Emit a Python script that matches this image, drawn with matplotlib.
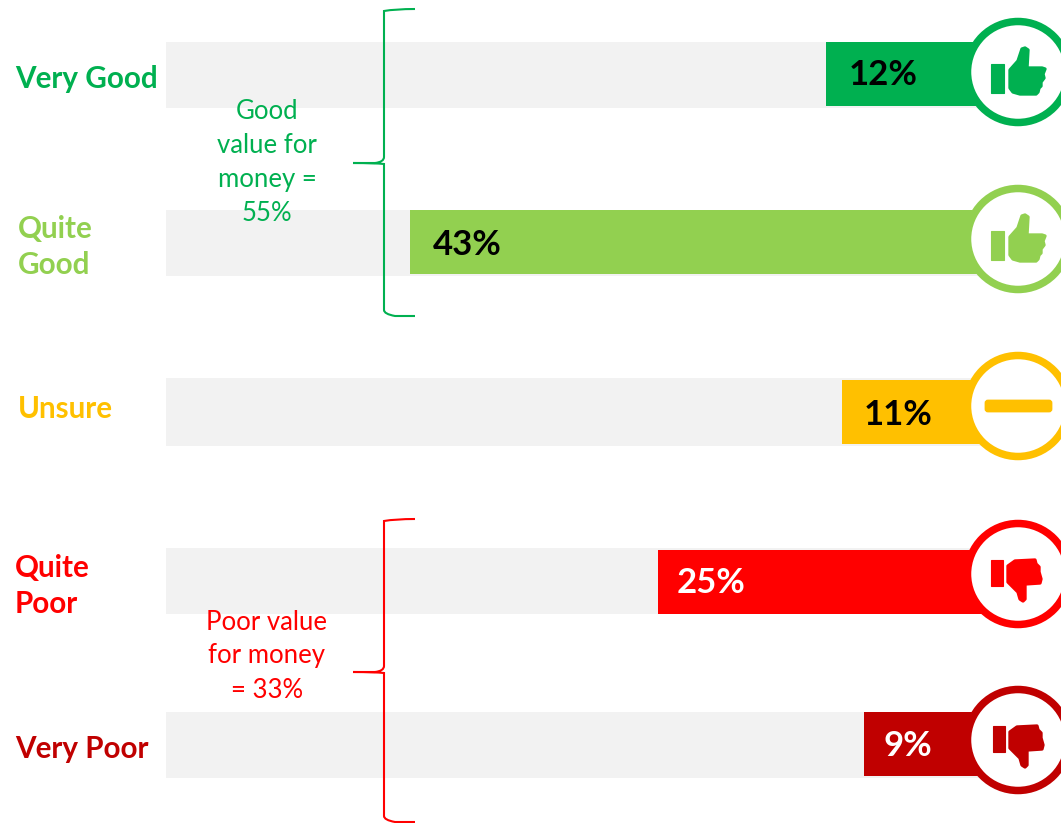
import matplotlib
matplotlib.use("Agg")
import matplotlib.pyplot as plt
from matplotlib.patches import Circle, PathPatch, Polygon, FancyBboxPatch, Rectangle
from matplotlib.path import Path

plt.rcParams['font.family'] = ['Lato', 'DejaVu Sans']

# chart data
categories = ["Very Good", "Quite\nGood", "Unsure", "Quite\nPoor", "Very Poor"]
shares = [12, 43, 11, 25, 9]
# bar lengths as drawn in the picture, they do not quite follow the labels
bar_lengths = [12.0, 43.05, 10.8, 24.55, 9.2]
colours = ["#00B050", "#92D050", "#FFC000", "#FF0000", "#C00000"]
share_colours = ["black", "black", "black", "white", "white"]
icons = ["up", "up", "dash", "down", "down"]
group_labels = ["Good\nvalue for\nmoney =\n55%", "Poor value\nfor money\n= 33%"]

W, H = 1061, 823
ZERO = 987       # pixel where the bars start, they grow to the left
PX_PER_PCT = 13.4

row_y = [74, 242, 412, 582, 744]
back_y = [75, 243, 412, 581, 745]
back_h = [66, 66, 68, 66, 66]
label_x = [15, 18, 18, 15, 15]
label_y = [79, 247, 409, 586, 749]
circle_y = [72, 239, 406, 574, 740]
share_x = [883, 467, 898, 711, 908]
share_y = [75, 245, 415, 583, 746]

fig = plt.figure(figsize=(W / 100, H / 100), dpi=100, facecolor="white")

# percent axis, inverted so that zero sits on the right
ax = fig.add_axes([0, 0, 1, 1], frameon=False)
ax.set_xlim(ZERO / PX_PER_PCT, (ZERO - W) / PX_PER_PCT)
ax.set_ylim(H, 0)
ax.set_xticks([])
ax.set_yticks([])

# grey tracks
track = (ZERO - 166) / PX_PER_PCT
ax.barh(back_y, track, height=back_h, color="#F2F2F2", zorder=1)
ax.barh(row_y, bar_lengths, height=64, color=colours, zorder=2)

# pixel overlay for the decoration
over = fig.add_axes([0, 0, 1, 1], frameon=False)
over.set_xlim(0, W)
over.set_ylim(H, 0)
over.set_xticks([])
over.set_yticks([])
over.patch.set_alpha(0)

thumb_up = [(-8, -2), (0, -11), (4, -23), (7, -24), (10, -22), (9, -4), (24, -4),
            (27, -3), (25, 2), (26, 6), (23, 10), (23, 14), (21, 16), (20, 20),
            (18, 22), (2, 22), (-5, 20), (-8, 16)]
thumb_down = [(-10, -8), (-3, -13), (17, -14), (18, -10), (21, -7), (21, -2),
              (23, 5), (22, 9), (7, 10), (7, 25), (5, 27), (2, 25), (0, 18), (-10, 8)]


def draw_icon(kind, cy, colour):
    cx = 1018
    over.add_patch(Circle((cx, cy), 50.5, facecolor="white", edgecolor=colour, lw=5.4, zorder=3))
    if kind == "dash":
        over.add_patch(FancyBboxPatch((986, cy - 5), 65, 10, boxstyle="round,pad=0,rounding_size=2",
                                      facecolor=colour, edgecolor=colour, lw=2, zorder=4))
        return
    if kind == "up":
        cuff = (cx - 27, cy - 8, 13, 29)
        points = thumb_up
        dx = 0
    else:
        dx = 2 if colour == "#C00000" else 0
        cuff = (cx - 27 + dx, cy - 14, 12, 26)
        points = thumb_down
    over.add_patch(Rectangle(cuff[:2], cuff[2], cuff[3], facecolor=colour, edgecolor=colour, lw=0.8, zorder=4))
    over.add_patch(Polygon([(cx + dx + px, cy + py) for px, py in points], closed=True,
                           facecolor=colour, edgecolor=colour, lw=2.4, joinstyle="round", zorder=4))


def draw_brace(top, mid, bottom, colour):
    xs, tip, end = 384, 353, 415
    verts = [(end, top), (395, top), (384, top + 2), (xs, top + 6),
             (xs, mid - 6), (384, mid - 1), (375, mid), (tip, mid),
             (375, mid), (384, mid + 1), (xs, mid + 6),
             (xs, bottom - 6), (384, bottom - 2), (395, bottom), (end, bottom)]
    codes = [Path.MOVETO, Path.CURVE3, Path.CURVE3, Path.LINETO,
             Path.LINETO, Path.CURVE3, Path.CURVE3, Path.LINETO,
             Path.CURVE3, Path.CURVE3, Path.LINETO,
             Path.LINETO, Path.CURVE3, Path.CURVE3, Path.LINETO]
    over.add_patch(PathPatch(Path(verts, codes), facecolor="none", edgecolor=colour, lw=1.5, zorder=3))


for i in range(len(categories)):
    draw_icon(icons[i], circle_y[i], colours[i])
    over.text(label_x[i], label_y[i], categories[i], color=colours[i], fontsize=21.3, fontweight="bold",
              va="center", ha="left", linespacing=1.38, zorder=5)
    over.text(share_x[i], share_y[i], f"{shares[i]}%", color=share_colours[i], fontsize=25,
              fontweight="bold", va="center", ha="center", zorder=5)

draw_brace(9, 163, 316, "#00B050")
draw_brace(519, 672, 822, "#FF0000")

over.text(267, 162, group_labels[0], color="#00B050", fontsize=18.5, ha="center", va="center", linespacing=1.45, zorder=5)
over.text(267, 656, group_labels[1], color="#FF0000", fontsize=18.5, ha="center", va="center", linespacing=1.45, zorder=5)

fig.savefig("out.png", dpi=100)
